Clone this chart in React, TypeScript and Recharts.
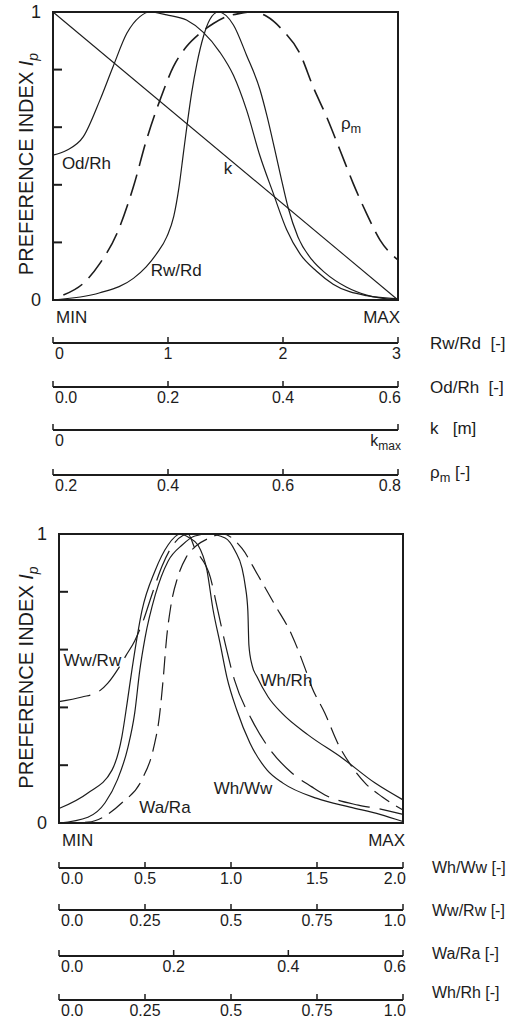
import { LineChart, Line, XAxis, YAxis, ReferenceArea, ReferenceDot } from "recharts";

const INK = "#1c1c1c";
const FONT = '"Liberation Sans", Arial, Helvetica, sans-serif';

// ---------- upper panel (0 = MIN, 1 = MAX)
const kX = [0, 1];
const kY = [1, 0];

const odRhX = [0, 0.04, 0.088, 0.136, 0.174, 0.214, 0.252, 0.28, 0.33, 0.387, 0.435, 0.484, 0.523, 0.561, 0.6, 0.638, 0.677, 0.716, 0.764, 0.812, 0.909, 1];
const odRhY = [0.503, 0.52, 0.567, 0.694, 0.81, 0.926, 0.984, 1, 0.99, 0.972, 0.93, 0.86, 0.78, 0.66, 0.5, 0.372, 0.245, 0.16, 0.1, 0.055, 0.015, 0.004];

const rwRdX = [0, 0.136, 0.233, 0.27, 0.3, 0.33, 0.35, 0.365, 0.378, 0.39, 0.402, 0.417, 0.436, 0.455, 0.479, 0.523, 0.561, 0.6, 0.62, 0.643, 0.66, 0.681, 0.71, 0.751, 0.788, 0.85, 0.909, 1];
const rwRdY = [0, 0.025, 0.075, 0.115, 0.16, 0.22, 0.29, 0.39, 0.51, 0.62, 0.72, 0.82, 0.915, 0.975, 1, 0.955, 0.85, 0.73, 0.64, 0.521, 0.43, 0.323, 0.219, 0.139, 0.095, 0.045, 0.017, 0];

const rhoX = [0.03, 0.088, 0.136, 0.185, 0.233, 0.271, 0.31, 0.349, 0.387, 0.426, 0.465, 0.503, 0.542, 0.58, 0.619, 0.667, 0.716, 0.754, 0.793, 0.832, 0.87, 0.909, 0.948, 1];
const rhoY = [0.017, 0.058, 0.127, 0.23, 0.393, 0.556, 0.694, 0.81, 0.88, 0.926, 0.96, 0.984, 0.995, 1, 0.985, 0.935, 0.855, 0.74, 0.636, 0.52, 0.405, 0.3, 0.208, 0.139];

const rwRdTicks = [0, 1, 2, 3];
const rwRdLabels = ["0", "1", "2", "3"];
const odRhTicks = [0, 0.2, 0.4, 0.6];
const odRhLabels = ["0.0", "0.2", "0.4", "0.6"];
const kTicks = [0, 1];
const kLabels = ["0", "k_max"];
const rhoTicks = [0.2, 0.4, 0.6, 0.8];
const rhoLabels = ["0.2", "0.4", "0.6", "0.8"];

// ---------- lower panel
const whWwX = [0, 0.084, 0.154, 0.183, 0.198, 0.212, 0.241, 0.279, 0.317, 0.352, 0.38, 0.404, 0.43, 0.448, 0.468, 0.488, 0.517, 0.555, 0.605, 0.651, 0.75, 0.846, 0.933, 1];
const whWwY = [0.05, 0.104, 0.183, 0.3, 0.415, 0.53, 0.734, 0.872, 0.962, 1, 0.986, 0.962, 0.875, 0.737, 0.623, 0.505, 0.39, 0.277, 0.183, 0.138, 0.085, 0.055, 0.03, 0.005];

const wwRwX = [0, 0.067, 0.113, 0.142, 0.17, 0.195, 0.22, 0.245, 0.27, 0.3, 0.33, 0.36, 0.375, 0.395, 0.44, 0.462, 0.484, 0.51, 0.561, 0.608, 0.677, 0.735, 0.773, 0.87, 0.927, 1];
const wwRwY = [0.42, 0.436, 0.453, 0.484, 0.53, 0.58, 0.63, 0.7, 0.79, 0.89, 0.96, 0.995, 1, 0.95, 0.85, 0.734, 0.616, 0.495, 0.356, 0.263, 0.173, 0.125, 0.097, 0.062, 0.05, 0.03];

const whRhX = [0, 0.084, 0.134, 0.17, 0.2, 0.22, 0.235, 0.25, 0.28, 0.317, 0.358, 0.395, 0.433, 0.483, 0.512, 0.532, 0.541, 0.549, 0.552, 0.561, 0.576, 0.608, 0.648, 0.724, 0.823, 0.919, 1];
const whRhY = [0, 0.02, 0.07, 0.15, 0.26, 0.38, 0.53, 0.64, 0.79, 0.906, 0.962, 0.993, 1, 0.986, 0.941, 0.882, 0.824, 0.734, 0.616, 0.547, 0.505, 0.436, 0.38, 0.305, 0.225, 0.138, 0.08];

const waRaX = [0, 0.084, 0.183, 0.241, 0.275, 0.292, 0.303, 0.312, 0.325, 0.345, 0.37, 0.4, 0.435, 0.475, 0.532, 0.578, 0.628, 0.677, 0.715, 0.735, 0.773, 0.81, 0.852, 0.89, 0.94, 1];
const waRaY = [0, 0.003, 0.07, 0.15, 0.26, 0.37, 0.5, 0.63, 0.75, 0.85, 0.92, 0.96, 0.985, 1, 0.95, 0.858, 0.754, 0.65, 0.536, 0.47, 0.38, 0.277, 0.194, 0.138, 0.09, 0.045];

const whWwTicks = [0, 0.5, 1, 1.5, 2];
const whWwLabels = ["0.0", "0.5", "1.0", "1.5", "2.0"];
const wwRwTicks = [0, 0.25, 0.5, 0.75, 1];
const wwRwLabels = ["0.0", "0.25", "0.5", "0.75", "1.0"];
const waRaTicks = [0, 0.2, 0.4, 0.6];
const waRaLabels = ["0.0", "0.2", "0.4", "0.6"];
const whRhTicks = [0, 0.25, 0.5, 0.75, 1];
const whRhLabels = ["0.0", "0.25", "0.5", "0.75", "1.0"];

const yTicks = [0, 0.2, 0.4, 0.6, 0.8, 1];

// curve captions, in plot units
const topNotes = [
  { text: "Od/Rh", x: 0.097, y: 0.476 },
  { text: "k", x: 0.507, y: 0.458 },
  { text: "Rw/Rd", x: 0.357, y: 0.104 },
  { text: "ρ_m", x: 0.864, y: 0.615 },
];
const bottomNotes = [
  { text: "Ww/Rw", x: 0.097, y: 0.564 },
  { text: "Wh/Rh", x: 0.661, y: 0.495 },
  { text: "Wh/Ww", x: 0.535, y: 0.121 },
  { text: "Wa/Ra", x: 0.308, y: 0.055 },
];

const zip = (xs: number[], ys: number[]) => xs.map((x, i) => ({ x, y: ys[i] }));

function Rich({ s }: { s: string }) {
  const m = s.match(/^(.*?)_(\w+)(.*)$/);
  if (!m) return <>{s}</>;
  return (
    <>
      {m[1]}
      <tspan dy={4} fontSize="0.75em">{m[2]}</tspan>
      {m[3] ? <tspan dy={-4}>{m[3]}</tspan> : null}
    </>
  );
}

function YTick(props: any) {
  const { x, y, payload } = props;
  const v = payload.value;
  if (v === 0 || v === 1) {
    return (
      <text x={x - 12} y={y} dy="0.36em" textAnchor="end" fontSize={18} fill={INK}>
        {v}
      </text>
    );
  }
  return <line x1={x} x2={x + 9} y1={y} y2={y} stroke={INK} strokeWidth={2} />;
}

function EndTick(props: any) {
  const { x, y, payload } = props;
  const isMin = payload.value === 0;
  return (
    <text x={isMin ? x + 3 : x + 2} y={y + 23} textAnchor={isMin ? "start" : "end"} fontSize={17} fill={INK}>
      {isMin ? "MIN" : "MAX"}
    </text>
  );
}

const scaleTick = (labels: string[]) => (props: any) => {
  const { x, y, index } = props;
  const last = labels.length - 1;
  const anchor = index === 0 ? "start" : index === last ? "end" : "middle";
  const dx = index === 0 ? 2 : index === last ? 3 : 0;
  return (
    <g>
      <line x1={x} x2={x} y1={y} y2={y - 6} stroke={INK} strokeWidth={1.5} />
      <text x={x + dx} y={y + 16} textAnchor={anchor} fontSize={16} fill={INK}>
        <Rich s={labels[index] ?? ""} />
      </text>
    </g>
  );
};

const sideTitle = (text: string, dy: number, size: number, gap: number) => (p: any) => {
  const vb = p.viewBox || {};
  return (
    <text x={(vb.x ?? 0) + (vb.width ?? 0) + gap} y={(vb.y ?? 0) + dy} fontSize={size} fill={INK}>
      <Rich s={text} />
    </text>
  );
};

const yTitle = (shift: number) => (p: any) => {
  const vb = p.viewBox || {};
  const cx = (vb.x ?? 0) + 26;
  const cy = (vb.y ?? 0) + (vb.height ?? 0) / 2 + shift;
  return (
    <text
      x={cx}
      y={cy}
      dy="0.36em"
      transform={`rotate(-90 ${cx} ${cy})`}
      textAnchor="middle"
      fontSize={20}
      fill={INK}
    >
      PREFERENCE INDEX <tspan fontStyle="italic">I</tspan>
      <tspan fontStyle="italic" fontSize={14} dy={5}>p</tspan>
    </text>
  );
};

const noteLabel = (text: string) => (p: any) => {
  const vb = p.viewBox || {};
  const cx = (vb.x ?? 0) + (vb.width ?? 0) / 2;
  const cy = (vb.y ?? 0) + (vb.height ?? 0) / 2;
  return (
    <text x={cx} y={cy} dy="0.36em" textAnchor="middle" fontSize={17} fill={INK}>
      <Rich s={text} />
    </text>
  );
};

type Scale = { id: string; ticks: number[]; labels: string[]; height: number; title: string; dy: number };

function scaleAxis(s: Scale, size: number, gap: number) {
  return (
    <XAxis
      key={s.id}
      xAxisId={s.id}
      dataKey="x"
      type="number"
      domain={[s.ticks[0], s.ticks[s.ticks.length - 1]]}
      ticks={s.ticks}
      allowDataOverflow
      height={s.height}
      axisLine={{ stroke: INK, strokeWidth: 2 }}
      tickLine={false}
      tickSize={0}
      tickMargin={0}
      interval={0}
      tick={scaleTick(s.labels)}
      label={sideTitle(s.title, s.dy, size, gap)}
    />
  );
}

// an empty carrier so that each printed scale gets its own domain
function scaleCarrier(s: Scale) {
  return (
    <Line
      key={"c" + s.id}
      xAxisId={s.id}
      data={s.ticks.map((t) => ({ x: t }))}
      dataKey="y"
      stroke="none"
      dot={false}
      activeDot={false}
      legendType="none"
      isAnimationActive={false}
    />
  );
}

// ids are prefixed so the stacking order below the plot is kept
const topScales: Scale[] = [
  { id: "s1", ticks: rwRdTicks, labels: rwRdLabels, height: 44, title: "Rw/Rd\u00a0 [-]", dy: 6 },
  { id: "s2", ticks: odRhTicks, labels: odRhLabels, height: 43, title: "Od/Rh\u00a0 [-]", dy: 6 },
  { id: "s3", ticks: kTicks, labels: kLabels, height: 45, title: "k\u00a0\u00a0 [m]", dy: 4 },
  { id: "s4", ticks: rhoTicks, labels: rhoLabels, height: 30, title: "ρ_m [-]", dy: 3 },
];
const bottomScales: Scale[] = [
  { id: "s1", ticks: whWwTicks, labels: whWwLabels, height: 42, title: "Wh/Ww [-]", dy: 5 },
  { id: "s2", ticks: wwRwTicks, labels: wwRwLabels, height: 46, title: "Ww/Rw [-]", dy: 6 },
  { id: "s3", ticks: waRaTicks, labels: waRaLabels, height: 44, title: "Wa/Ra [-]", dy: 3 },
  { id: "s4", ticks: whRhTicks, labels: whRhLabels, height: 21, title: "Wh/Rh [-]", dy: -2 },
];

function TopPanel() {
  return (
    <LineChart width={509} height={505} margin={{ top: 12, right: 111, bottom: 0, left: 0 }}>
      <XAxis
        xAxisId="a0"
        dataKey="x"
        type="number"
        domain={[0, 1]}
        ticks={[0, 1]}
        height={43}
        axisLine={false}
        tickLine={false}
        tickSize={0}
        tickMargin={0}
        tick={EndTick}
      />
      {topScales.map((s) => scaleAxis(s, 17, 32))}
      <YAxis
        type="number"
        domain={[0, 1]}
        ticks={yTicks}
        width={53}
        axisLine={false}
        tickLine={false}
        tickSize={0}
        tickMargin={0}
        interval={0}
        tick={YTick}
        label={yTitle(8)}
      />
      {topScales.map(scaleCarrier)}
      <Line xAxisId="a0" data={zip(kX, kY)} dataKey="y" type="linear" stroke={INK} strokeWidth={1.1} dot={false} isAnimationActive={false} />
      <Line xAxisId="a0" data={zip(odRhX, odRhY)} dataKey="y" type="monotone" stroke={INK} strokeWidth={1.2} dot={false} isAnimationActive={false} />
      <Line xAxisId="a0" data={zip(rwRdX, rwRdY)} dataKey="y" type="monotone" stroke={INK} strokeWidth={1.2} dot={false} isAnimationActive={false} />
      <Line xAxisId="a0" data={zip(rhoX, rhoY)} dataKey="y" type="monotone" stroke={INK} strokeWidth={1.6} strokeDasharray="22 9" dot={false} isAnimationActive={false} />
      <ReferenceArea xAxisId="a0" x1={0} x2={1} y1={0} y2={1} fill="none" fillOpacity={0} stroke={INK} strokeWidth={2} ifOverflow="visible" />
      {topNotes.map((n) => (
        <ReferenceDot key={n.text} xAxisId="a0" x={n.x} y={n.y} r={1} fill="none" stroke="none" label={noteLabel(n.text)} />
      ))}
    </LineChart>
  );
}

function BottomPanel() {
  return (
    <LineChart width={509} height={516} margin={{ top: 29, right: 106, bottom: 0, left: 0 }}>
      <XAxis
        xAxisId="a0"
        dataKey="x"
        type="number"
        domain={[0, 1]}
        ticks={[0, 1]}
        height={45}
        axisLine={false}
        tickLine={false}
        tickSize={0}
        tickMargin={0}
        tick={EndTick}
      />
      {bottomScales.map((s) => scaleAxis(s, 16, 29))}
      <YAxis
        type="number"
        domain={[0, 1]}
        ticks={yTicks}
        width={59}
        axisLine={false}
        tickLine={false}
        tickSize={0}
        tickMargin={0}
        interval={0}
        tick={YTick}
        label={yTitle(-1)}
      />
      {bottomScales.map(scaleCarrier)}
      <Line xAxisId="a0" data={zip(whWwX, whWwY)} dataKey="y" type="monotone" stroke={INK} strokeWidth={1.2} dot={false} isAnimationActive={false} />
      <Line xAxisId="a0" data={zip(whRhX, whRhY)} dataKey="y" type="monotone" stroke={INK} strokeWidth={1.2} dot={false} isAnimationActive={false} />
      <Line xAxisId="a0" data={zip(wwRwX, wwRwY)} dataKey="y" type="monotone" stroke={INK} strokeWidth={1.2} strokeDasharray="32 10" dot={false} isAnimationActive={false} />
      <Line xAxisId="a0" data={zip(waRaX, waRaY)} dataKey="y" type="monotone" stroke={INK} strokeWidth={1.2} strokeDasharray="18 8" dot={false} isAnimationActive={false} />
      <ReferenceArea xAxisId="a0" x1={0} x2={1} y1={0} y2={1} fill="none" fillOpacity={0} stroke={INK} strokeWidth={2} ifOverflow="visible" />
      {bottomNotes.map((n) => (
        <ReferenceDot key={n.text} xAxisId="a0" x={n.x} y={n.y} r={1} fill="none" stroke="none" label={noteLabel(n.text)} />
      ))}
    </LineChart>
  );
}

export default function App() {
  return (
    <div style={{ position: "absolute", left: 0, top: 0, width: 509, height: 1021, background: "#fff", fontFamily: FONT, overflow: "hidden" }}>
      <TopPanel />
      <BottomPanel />
    </div>
  );
}
